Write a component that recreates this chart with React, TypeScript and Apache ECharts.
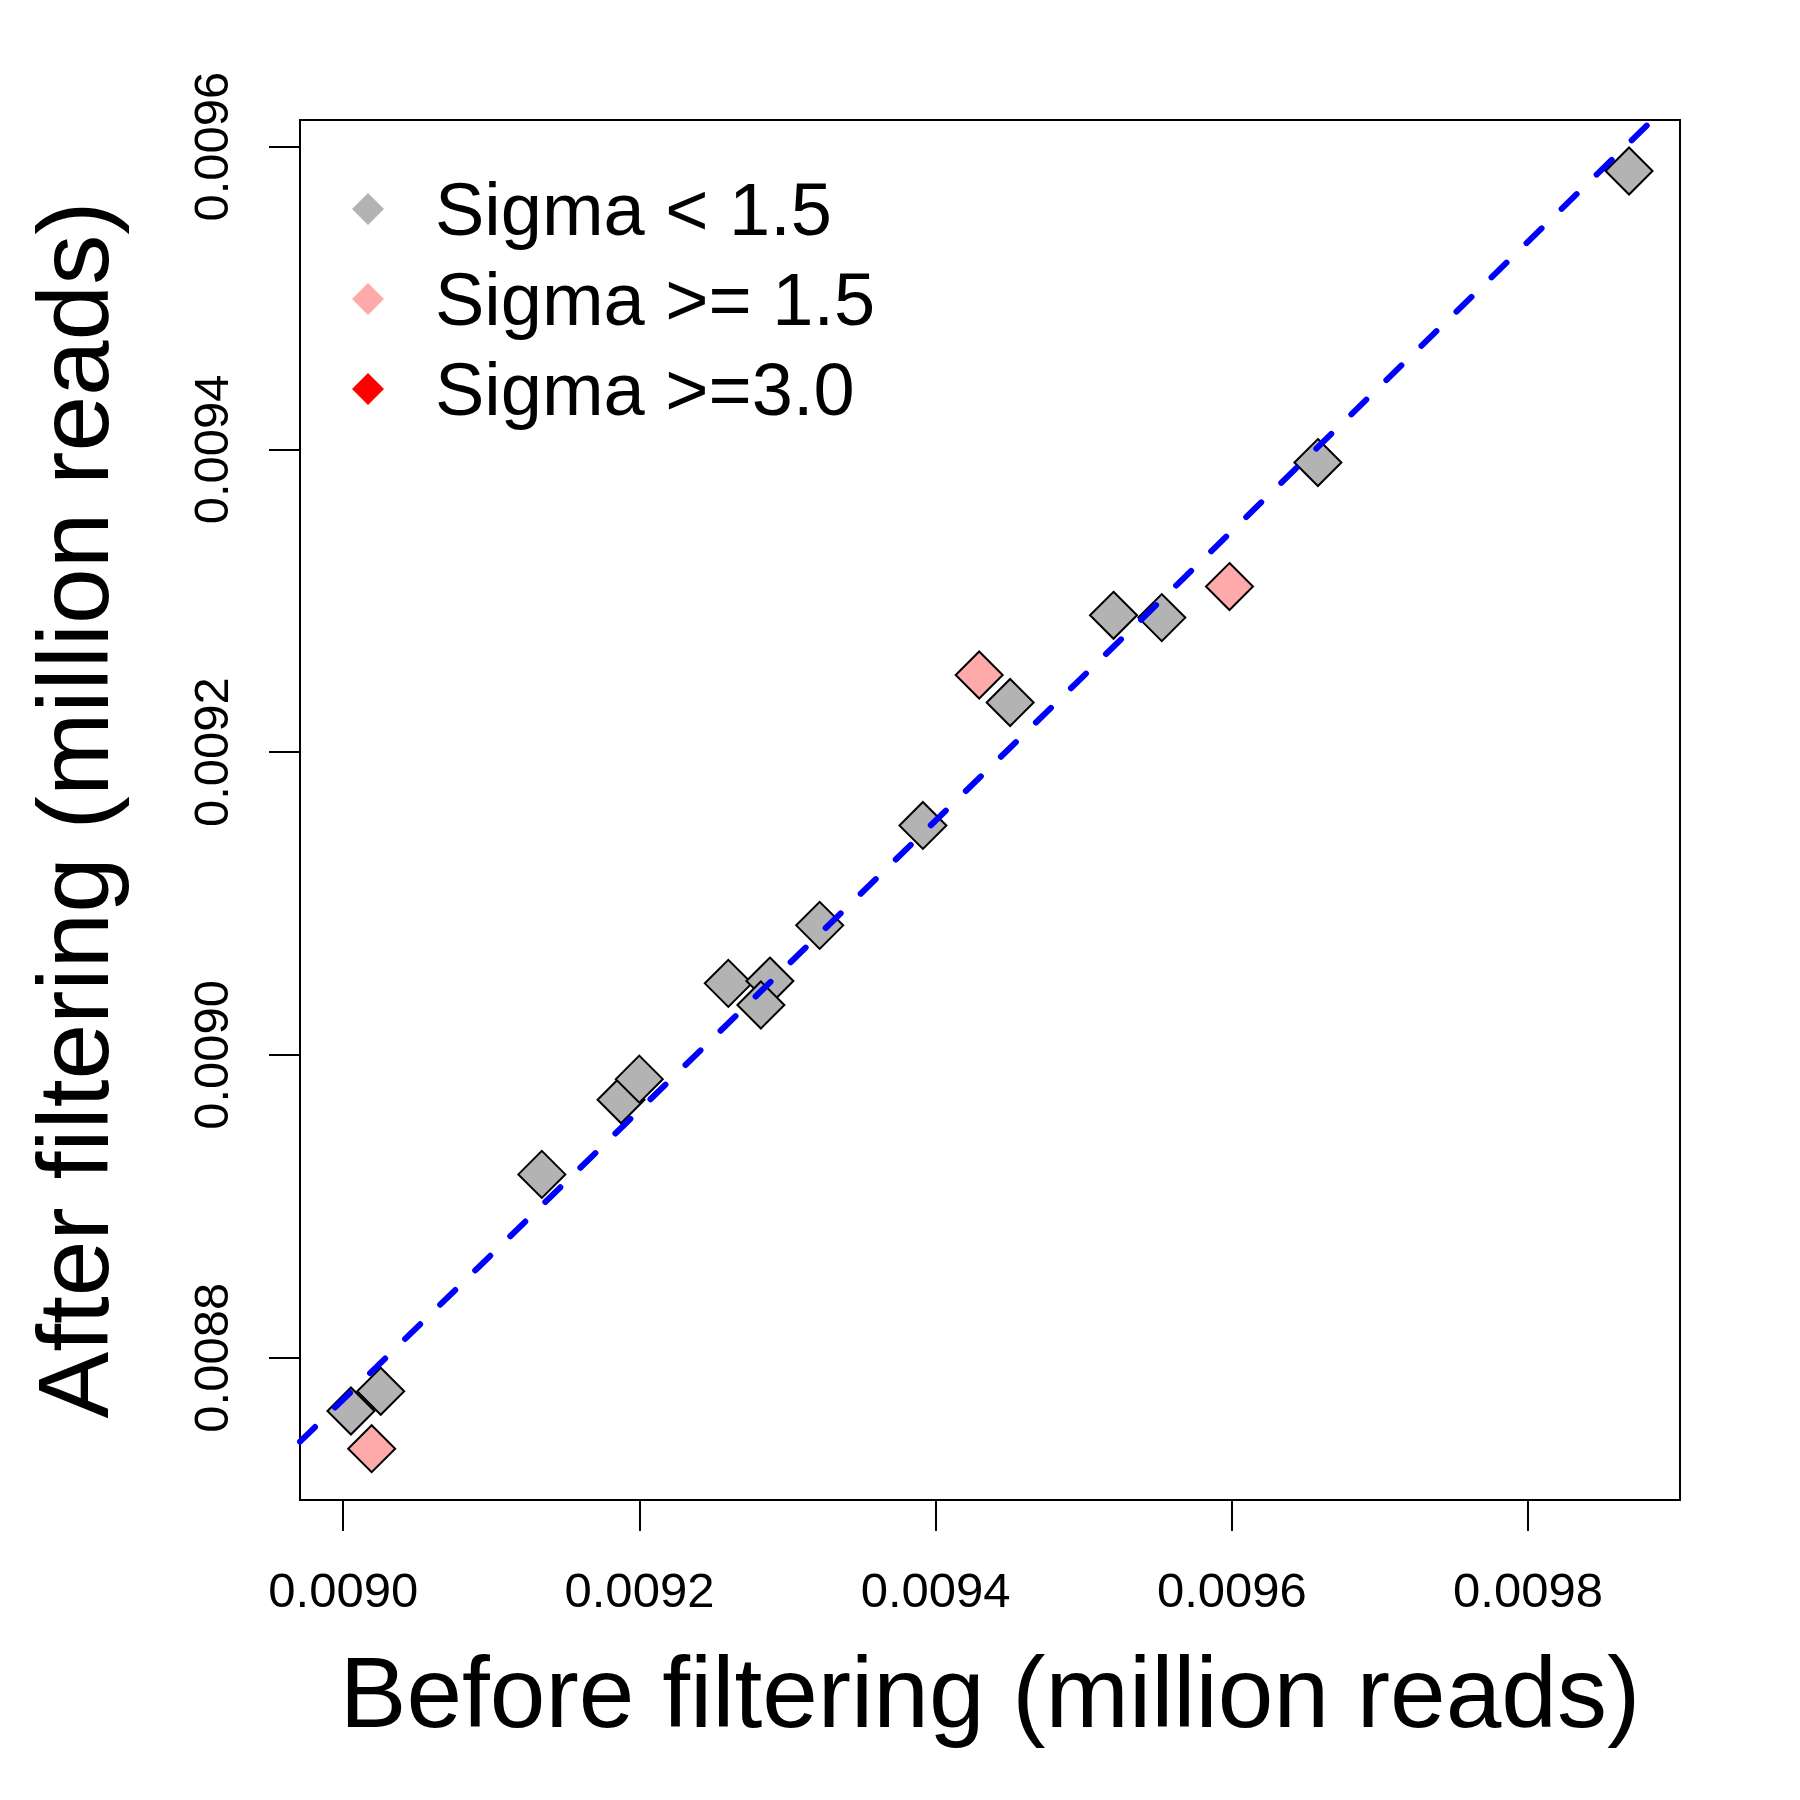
import React, { useEffect, useRef } from "react";
import * as echarts from "echarts";

// Axis ticks
const xTicks = [0.009, 0.0092, 0.0094, 0.0096, 0.0098];
const yTicks = [0.0088, 0.009, 0.0092, 0.0094, 0.0096];

// Axis ranges (R default 4% padding)
const xRange = [0.0089708, 0.0099026];
const yRange = [0.008706, 0.0096176];

// Sigma < 1.5 (gray)
const grayBefore = [0.0090052, 0.0090253, 0.0091341, 0.0091876, 0.0091999, 0.00926, 0.0092881, 0.009282, 0.0093217, 0.0093914, 0.0094503, 0.0095201, 0.0095527, 0.0096581, 0.0098682];
const grayAfter = [0.0087648, 0.0087778, 0.0089211, 0.0089704, 0.008984, 0.0090473, 0.0090488, 0.009033, 0.0090856, 0.0091516, 0.0092328, 0.0092904, 0.0092889, 0.0093913, 0.0095839];

// Sigma >= 1.5 (pink)
const pinkBefore = [0.0090192, 0.0094294, 0.0095984];
const pinkAfter = [0.0087399, 0.009251, 0.0093094];

// Sigma >= 3.0 (red) — none
const redBefore: number[] = [];
const redAfter: number[] = [];

// Fitted line end points
const fitBefore = [0.0089708, 0.0098840];
const fitAfter = [0.0087445, 0.0096176];

const seriesNames = ["Sigma < 1.5", "Sigma >= 1.5", "Sigma >=3.0"];
const seriesColors = ["#B3B3B3", "#FFAAAA", "#FF0000"];

const FONT = "'Liberation Sans', Arial, Helvetica, sans-serif";

const zip = (a: number[], b: number[]) => a.map((v, i) => [v, b[i]]);

export default function App() {
  const ref = useRef<HTMLDivElement>(null);
  useEffect(() => {
    if (!ref.current) return;
    const chart = echarts.init(ref.current, undefined, { renderer: "svg" });
    const scatterStyle = (color: string) => ({
      type: "scatter" as const,
      symbol: "diamond",
      symbolSize: 47,
      itemStyle: { color, borderColor: "#000000", borderWidth: 2, opacity: 1 },
      z: 2,
    });
    chart.setOption({
      animation: false,
      backgroundColor: "#ffffff",
      textStyle: { fontFamily: FONT },
      grid: {
        left: 300,
        right: 120,
        top: 120,
        bottom: 300,
        show: true,
        borderColor: "#000000",
        borderWidth: 2,
        backgroundColor: "transparent",
      },
      legend: {
        show: true,
        orient: "vertical",
        left: 347,
        top: 164,
        itemWidth: 32,
        itemHeight: 32,
        itemGap: 10,
        icon: "diamond",
        itemStyle: { borderWidth: 0 },
        data: seriesNames.map((n) => ({ name: n, icon: "diamond" })),
        textStyle: {
          fontFamily: FONT,
          fontSize: 74,
          color: "#000000",
          lineHeight: 80,
          padding: [0, 0, 0, 46],
        },
      },
      xAxis: {
        type: "value",
        min: xRange[0],
        max: xRange[1],
        name: "Before filtering (million reads)",
        nameLocation: "middle",
        nameGap: 142,
        nameTextStyle: { fontFamily: FONT, fontSize: 100, color: "#000000" },
        axisLine: { show: true, onZero: false, lineStyle: { color: "#000000", width: 2 } },
        axisTick: {
          show: true,
          inside: false,
          length: 31,
          customValues: xTicks,
          lineStyle: { color: "#000000", width: 2 },
        },
        axisLabel: {
          show: true,
          margin: 65,
          customValues: xTicks,
          fontFamily: FONT,
          fontSize: 49,
          color: "#000000",
          formatter: (v: number) => v.toFixed(4),
        },
        splitLine: { show: false },
      },
      yAxis: {
        type: "value",
        min: yRange[0],
        max: yRange[1],
        name: "After filtering (million reads)",
        nameLocation: "middle",
        nameGap: 177,
        nameTextStyle: { fontFamily: FONT, fontSize: 100, color: "#000000" },
        axisLine: { show: true, onZero: false, lineStyle: { color: "#000000", width: 2 } },
        axisTick: {
          show: true,
          inside: false,
          length: 31,
          customValues: yTicks,
          lineStyle: { color: "#000000", width: 2 },
        },
        axisLabel: {
          show: true,
          margin: 65,
          rotate: 90,
          customValues: yTicks,
          fontFamily: FONT,
          fontSize: 49,
          color: "#000000",
          formatter: (v: number) => v.toFixed(4),
        },
        splitLine: { show: false },
      },
      series: [
        { name: seriesNames[0], ...scatterStyle(seriesColors[0]), data: zip(grayBefore, grayAfter) },
        { name: seriesNames[1], ...scatterStyle(seriesColors[1]), data: zip(pinkBefore, pinkAfter) },
        { name: seriesNames[2], ...scatterStyle(seriesColors[2]), data: zip(redBefore, redAfter) },
        {
          name: "fit",
          type: "line",
          data: zip(fitBefore, fitAfter),
          symbol: "none",
          clip: true,
          silent: true,
          z: 5,
          lineStyle: { color: "#0000FF", width: 6, type: [21, 28], cap: "round" },
        },
      ],
    });
    return () => chart.dispose();
  }, []);
  return (
    <div
      ref={ref}
      style={{ position: "absolute", left: 0, top: 0, width: 1800, height: 1800, background: "#ffffff" }}
    />
  );
}
